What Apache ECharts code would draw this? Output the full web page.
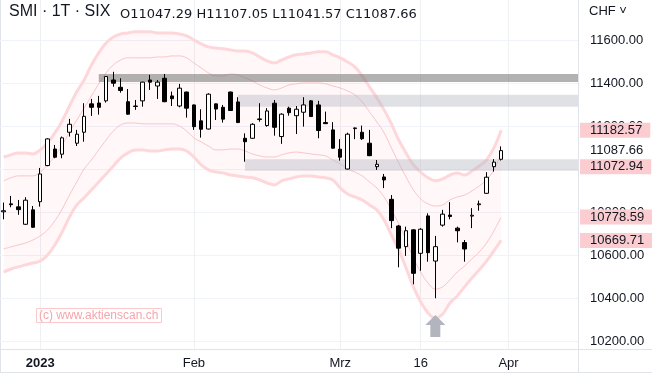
<!DOCTYPE html>
<html><head><meta charset="utf-8">
<script src="https://cdn.jsdelivr.net/npm/echarts@6/dist/echarts.min.js"></script>
<style>html,body{margin:0;padding:0;background:#fff}#c{width:652px;height:373px}</style>
</head><body><div id="c"></div>
<script>
// Categories: trading days (Dec 23 2022 .. Mar 31 2023) + empty future slots
const dates = [
 '2022-12-23','2022-12-27','2022-12-28','2022-12-29','2022-12-30',
 '2023-01-03','2023-01-04','2023-01-05','2023-01-06','2023-01-09','2023-01-10','2023-01-11','2023-01-12','2023-01-13',
 '2023-01-16','2023-01-17','2023-01-18','2023-01-19','2023-01-20','2023-01-23','2023-01-24','2023-01-25','2023-01-26','2023-01-27',
 '2023-01-30','2023-01-31','2023-02-01','2023-02-02','2023-02-03','2023-02-06','2023-02-07','2023-02-08','2023-02-09','2023-02-10',
 '2023-02-13','2023-02-14','2023-02-15','2023-02-16','2023-02-17','2023-02-20','2023-02-21','2023-02-22','2023-02-23','2023-02-24',
 '2023-02-27','2023-02-28','2023-03-01','2023-03-02','2023-03-03','2023-03-06','2023-03-07','2023-03-08','2023-03-09','2023-03-10',
 '2023-03-13','2023-03-14','2023-03-15','2023-03-16','2023-03-17','2023-03-20','2023-03-21','2023-03-22','2023-03-23','2023-03-24',
 '2023-03-27','2023-03-28','2023-03-29','2023-03-30','2023-03-31',
 '2023-04-03','2023-04-04','2023-04-05','2023-04-06','2023-04-11','2023-04-12','2023-04-13','2023-04-14','2023-04-17','2023-04-18'
];
const tickDates = ['2023-01-03','2023-02-01','2023-03-01','2023-03-16','2023-04-03'];
const tickLabels = ['2023','Feb','Mrz','16','Apr'];
const yTicks = [10200,10400,10600,10800,11000,11200,11400,11600];

// OHLC from 2022-12-23 to 2023-03-31
const opens  = [10803,10840,10826,10745,10812,10850,11018,11095,11071,11173,11122,11173,11305,11309,11319,11416,11382,11315,11295,11319,11416,11388,11424,11342,11295,11360,11300,11226,11188,11305,11289,11360,11314,11145,11145,11232,11204,11308,11153,11285,11250,11266,11319,11300,11218,11184,11094,11002,11190,11173,11122,11013,10965,10861,10737,10641,10719,10610,10784,10574,10741,10788,10727,10660,10783,10836,10889,11013,11047.29];
const closes = [10808,10836,10813,10857,10731,10979,11142,11057,11147,11210,11164,11247,11289,11289,11432,11401,11367,11257,11293,11406,11406,11406,11315,11329,11378,11285,11199,11187,11350,11281,11234,11274,11218,11129,11210,11235,11272,11196,11257,11264,11280,11300,11246,11181,11213,11099,11057,11164,11193,11143,11064,11024,10951,10762,10634,10715,10517,10722,10613,10641,10792,10781,10715,10630,10787,10840,10964,11034,11087.66];
const lows   = [10768,10824,10789,10742,10729,10827,11015,11052,11052,11153,11109,11129,11249,11255,11311,11385,11357,11255,11277,11292,11370,11328,11313,11295,11289,11241,11184,11148,11186,11230,11218,11272,11216,11036,11143,11222,11199,11157,11119,11250,11165,11199,11244,11145,11211,11097,11041,11000,11141,11137,11062,10998,10913,10727,10545,10598,10466,10529,10571,10401,10734,10768,10661,10571,10727,10808,10887,10990,11041.57];
const highs  = [10846,10877,10858,10871,10830,11007,11145,11114,11153,11235,11184,11308,11328,11342,11434,11454,11424,11374,11323,11408,11440,11416,11444,11362,11398,11362,11302,11280,11354,11306,11300,11362,11336,11168,11215,11308,11285,11323,11261,11292,11295,11336,11323,11319,11269,11220,11141,11171,11195,11204,11184,11044,10979,10881,10742,10734,10722,10727,10796,10691,10812,10848,10734,10672,10820,10855,10987,11048,11107.05];

// Envelope bands from 2022-12-23 to 2023-03-31
const bandOuterUpper = [11058,11068,11077,11077,11072,11091,11123,11170,11226,11295,11361,11416,11486,11542,11588,11616,11630,11635,11640,11640,11640,11635,11635,11635,11630,11621,11602,11584,11570,11565,11561,11556,11551,11551,11542,11523,11505,11495,11509,11523,11533,11537,11542,11547,11547,11533,11519,11500,11477,11435,11384,11333,11277,11212,11137,11077,11021,10988,10961,10947,10956,10974,10984,10974,10993,11016,11044,11100,11182.57];
const bandInnerUpper = [10947,10961,10970,10970,10970,10988,11021,11063,11114,11174,11230,11286,11342,11398,11449,11486,11509,11519,11519,11519,11519,11523,11523,11528,11528,11519,11495,11472,11449,11435,11435,11444,11440,11426,11412,11393,11379,11370,11379,11393,11398,11402,11402,11402,11398,11388,11379,11365,11347,11314,11268,11221,11170,11100,11030,10965,10905,10863,10840,10830,10835,10858,10872,10881,10900,10923,10951,10998,11072.94];
const bandInnerLower = [10630,10640,10649,10658,10672,10691,10719,10761,10816,10881,10942,11002,11044,11091,11137,11179,11207,11216,11216,11212,11212,11212,11212,11212,11202,11179,11147,11128,11109,11091,11091,11095,11095,11086,11072,11063,11058,11058,11068,11077,11081,11077,11072,11068,11063,11044,11026,11002,10988,10970,10942,10914,10872,10812,10747,10672,10588,10523,10472,10444,10454,10486,10523,10551,10584,10616,10658,10714,10778.59];
const bandOuterLower = [10523,10537,10547,10556,10565,10574,10602,10649,10709,10779,10835,10868,10905,10942,10979,11016,11054,11077,11091,11091,11086,11086,11091,11095,11095,11086,11058,11021,10998,10988,10984,10974,10970,10965,10961,10951,10937,10928,10947,10956,10965,10970,10970,10965,10961,10951,10914,10886,10872,10858,10835,10812,10765,10695,10626,10542,10454,10384,10333,10309,10328,10379,10412,10454,10495,10533,10574,10621,10669.71];

// Horizontal zones
const zoneStarts = ['2023-01-13','2023-02-09','2023-02-10'];
const zoneHighs  = [11444,11347,11048];
const zoneLows   = [11407,11292,10994];

// Arrow marker
const arrowDates  = ['2023-03-20'];
const arrowValues = [10272];

const FONT = 'Liberation Sans';
const TXT = '#131722';

const candleData = dates.map((d, k) =>
  k < opens.length ? [opens[k], closes[k], lows[k], highs[k]] : '-');
const last = opens.length - 1;
const ohlcText = 'O' + opens[last].toFixed(2) + ' H' + highs[last].toFixed(2) +
  ' L' + lows[last].toFixed(2) + ' C' + closes[last].toFixed(2);
const fillDiff = bandOuterUpper.map((v, k) => v - bandOuterLower[k]);

const zoneColors = ['rgba(120,120,120,0.57)','rgba(178,181,190,0.4)','rgba(178,181,190,0.4)'];
const lb = bandOuterUpper.length - 1;
const badgeVals = [bandOuterUpper[lb], bandInnerUpper[lb], bandInnerLower[lb], bandOuterLower[lb]];

const bandLine = (data, w, c) => ({
  type: 'line', data: data, smooth: 0.4, symbol: 'none', silent: true, z: 1,
  lineStyle: { width: w, color: c }
});

const chart = echarts.init(document.getElementById('c'), null, { renderer: 'canvas' });
chart.setOption({
  animation: false,
  backgroundColor: '#ffffff',
  textStyle: { fontFamily: FONT },
  title: [
    { text: 'SMI · 1T · SIX', left: 9, top: 4, padding: 0,
      textStyle: { fontFamily: FONT, fontSize: 16, fontWeight: 'normal', color: TXT } },
    { text: ohlcText, left: 120, top: 8, padding: 0,
      textStyle: { fontFamily: 'DejaVu Sans', fontSize: 13, fontWeight: 'normal', color: TXT } },
    { text: 'CHF ˅', left: 589, top: 5, padding: 0,
      textStyle: { fontFamily: FONT, fontSize: 13, fontWeight: 'normal', color: TXT } },
    { text: '(c) www.aktienscan.ch', left: 36, top: 308, padding: [2, 3, 1, 3],
      borderColor: '#fbc8cc', borderWidth: 1,
      textStyle: { fontFamily: FONT, fontSize: 12, fontWeight: 'normal', color: '#f6a5ab' } }
  ],
  grid: { left: 0, right: 74, top: 0, bottom: 24 },
  xAxis: {
    type: 'category', data: dates, boundaryGap: true,
    axisLine: { lineStyle: { color: '#e0e3eb' } },
    axisTick: { show: false },
    splitLine: { show: false },
    axisLabel: {
      interval: (idx, val) => tickDates.indexOf(val) >= 0,
      formatter: (val) => {
        const t = tickLabels[tickDates.indexOf(val)];
        return t === '2023' ? '{b|' + t + '}' : t;
      },
      color: TXT, fontSize: 13, fontFamily: FONT, margin: 8,
      rich: { b: { fontWeight: 'bold', fontSize: 13, color: TXT, fontFamily: FONT } }
    }
  },
  yAxis: {
    type: 'value', position: 'right', min: 10165, max: 11788, splitNumber: 8,
    axisLine: { show: true, lineStyle: { color: '#e0e3eb' } },
    axisTick: { show: false, customValues: yTicks },
    splitLine: { show: true, lineStyle: { color: '#f0f3fa', width: 1 } },
    axisLabel: { customValues: yTicks, formatter: (v) => v.toFixed(2),
      color: TXT, fontSize: 13, fontFamily: FONT, margin: 12 }
  },
  series: [
    { type: 'line', data: bandOuterLower, stack: 'env', smooth: 0.4, symbol: 'none', silent: true, z: 0,
      lineStyle: { opacity: 0 },
      markLine: { silent: true, symbol: 'none', z: 0, label: { show: false },
        lineStyle: { color: '#eef0f4', width: 1, type: 'solid' },
        data: tickDates.map(d => ({ xAxis: d })) } },
    { type: 'line', data: fillDiff, stack: 'env', smooth: 0.4, symbol: 'none', silent: true, z: 0,
      lineStyle: { opacity: 0 }, areaStyle: { color: 'rgba(245,80,90,0.06)' } },
    bandLine(bandOuterUpper, 3, '#fdd7da'),
    bandLine(bandInnerUpper, 1, '#f9c5c9'),
    bandLine(bandInnerLower, 1, '#f9c5c9'),
    bandLine(bandOuterLower, 3, '#fdd7da'),
    { type: 'candlestick', data: candleData, barWidth: 4, z: 3,
      itemStyle: { color: '#ffffff', color0: '#000000', borderColor: '#000000', borderColor0: '#000000', borderWidth: 1 },
      markArea: { silent: true, z: 2, label: { show: false },
        data: zoneStarts.map((d, k) => [
          { xAxis: d, yAxis: zoneHighs[k], itemStyle: { color: zoneColors[k] } },
          { yAxis: zoneLows[k] }
        ]) },
      markPoint: { silent: true,
        data: arrowDates.map((d, k) => ({
          coord: [d, arrowValues[k]],
          symbol: 'path://M10,0L20,10L15,10L15,22L5,22L5,10L0,10Z',
          symbolSize: [20, 22], symbolKeepAspect: false,
          itemStyle: { color: '#b2b5be' }, label: { show: false }
        })) }
    },
    { type: 'line', data: [], silent: true, z: 6,
      markLine: { silent: true, symbol: 'none', z: 6,
        lineStyle: { color: 'rgba(0,0,0,0)', width: 0 },
        label: { show: true, position: 'end', distance: 2, formatter: (p) => Number(p.value).toFixed(2),
          backgroundColor: '#fbcdd1', color: TXT, fontSize: 13, fontFamily: FONT,
          padding: [1, 8, 1, 10], lineHeight: 13 },
        data: [
          { yAxis: badgeVals[0] },
          { yAxis: badgeVals[1], label: { offset: [0, 13] } },
          { yAxis: badgeVals[2] },
          { yAxis: badgeVals[3] },
          { yAxis: closes[last], label: { backgroundColor: '#ffffff' } }
        ] }
    }
  ],
  graphic: [
    { type: 'line', silent: true, shape: { x1: 0.5, y1: 0, x2: 0.5, y2: 373 }, style: { stroke: '#e0e3eb', lineWidth: 1 } },
    { type: 'line', silent: true, shape: { x1: 0, y1: 372.5, x2: 652, y2: 372.5 }, style: { stroke: '#e0e3eb', lineWidth: 1 } },
    { type: 'line', silent: true, shape: { x1: 578.5, y1: 349, x2: 578.5, y2: 373 }, style: { stroke: '#e0e3eb', lineWidth: 1 } },
    { type: 'line', silent: true, shape: { x1: 578, y1: 349.5, x2: 652, y2: 349.5 }, style: { stroke: '#e0e3eb', lineWidth: 1 } }
  ]
});
</script></body></html>
